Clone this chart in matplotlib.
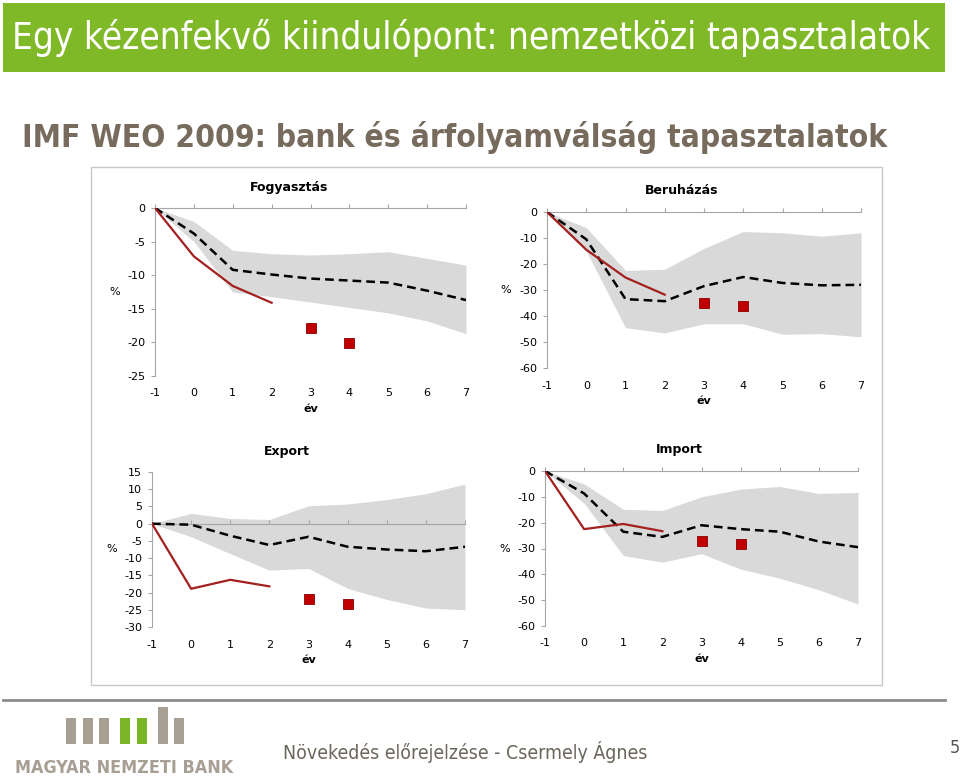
import numpy as np
import matplotlib
matplotlib.use("Agg")
import matplotlib.pyplot as plt
from matplotlib.patches import Rectangle

plt.rcParams["axes.unicode_minus"] = False

# Years after crisis
years = [-1, 0, 1, 2, 3, 4, 5, 6, 7]
red_years = [-1, 0, 1, 2]
sq_years = [3, 4]

# Fogyasztás
fogy_upper = [0, -2, -6.3, -6.8, -7, -6.8, -6.5, -7.5, -8.5]
fogy_lower = [0, -5, -12.5, -13.2, -14, -14.8, -15.6, -16.8, -18.7]
fogy_mid = [0, -3.8, -9.2, -9.9, -10.5, -10.8, -11.1, -12.3, -13.7]
fogy_red = [0, -7.2, -11.6, -14.1]
fogy_sq = [-17.8, -20.1]

# Beruházás
ber_upper = [0, -6, -22.5, -22, -14, -7.5, -8, -9.3, -8]
ber_lower = [0, -15, -44.5, -46.5, -43, -43, -47, -46.8, -48]
ber_mid = [0, -10.5, -33.5, -34.3, -28.5, -25, -27.3, -28.2, -28]
ber_red = [0, -14.5, -25.2, -31.8]
ber_sq = [-35, -36]

# Export
exp_upper = [0, 3, 1.5, 1.2, 5.2, 5.7, 7, 8.7, 11.5]
exp_lower = [0, -3.8, -8.7, -13.5, -13, -18.8, -22, -24.5, -25]
exp_mid = [0, -0.3, -3.5, -6.2, -3.8, -6.7, -7.5, -8, -6.7]
exp_red = [0, -18.9, -16.3, -18.2]
exp_sq = [-21.8, -23.2]

# Import
imp_upper = [0, -5, -14.8, -15.3, -10, -7, -6, -8.7, -8.3]
imp_lower = [0, -12.5, -32.7, -35.3, -32, -38, -41.5, -46, -51.5]
imp_mid = [0, -8.7, -23.5, -25.5, -21, -22.5, -23.5, -27.3, -29.5]
imp_red = [0, -22.5, -20.5, -23.3]
imp_sq = [-27, -28.3]

W, H = 960, 781
fig = plt.figure(figsize=(W / 100, H / 100), dpi=100)
fig.patch.set_facecolor("white")


def px_rect(x0, y0, x1, y1, **kw):
    # rectangle given in pixel coords (top-left origin)
    fig.add_artist(Rectangle((x0 / W, 1 - y1 / H), (x1 - x0) / W, (y1 - y0) / H,
                             transform=fig.transFigure, **kw))


def fit_text(x, y, s, width, **kw):
    # place text at pixel position and scale font so it spans the given width
    t = fig.text(x / W, 1 - y / H, s, **kw)
    r = fig.canvas.get_renderer()
    w = t.get_window_extent(r).width
    t.set_fontsize(t.get_fontsize() * width / w)
    return t


# Header banner
px_rect(3, 3, 945, 72, facecolor="#80b928", edgecolor="none")
fit_text(12, 38, "Egy kézenfekvő kiindulópont: nemzetközi tapasztalatok", 920,
         color="white", fontsize=24, va="center", ha="left",
         family="DejaVu Sans", fontstretch="condensed")
fit_text(22, 138, "IMF WEO 2009: bank és árfolyamválság tapasztalatok", 866,
         color="#776b5d", fontsize=24, va="center", ha="left",
         family="DejaVu Sans", fontstretch="condensed", fontweight="bold")

# chart frame (behind the axes)
px_rect(91, 167, 882, 685, facecolor="white", edgecolor="#c8c8c8", linewidth=1, zorder=-5)

panels = [
    ("Fogyasztás", (155, 208, 466, 376), (-25, 0), 5, fogy_upper, fogy_lower, fogy_mid, fogy_red, fogy_sq),
    ("Beruházás", (547, 212, 861, 368), (-60, 0), 10, ber_upper, ber_lower, ber_mid, ber_red, ber_sq),
    ("Export", (152, 472, 465, 627), (-30, 15), 5, exp_upper, exp_lower, exp_mid, exp_red, exp_sq),
    ("Import", (545, 471, 858, 626), (-60, 0), 10, imp_upper, imp_lower, imp_mid, imp_red, imp_sq),
]

for title, (x0, y0, x1, y1), ylim, step, upper, lower, mid, red, sq in panels:
    ax = fig.add_axes([x0 / W, 1 - y1 / H, (x1 - x0) / W, (y1 - y0) / H])
    ax.fill_between(years, lower, upper, color="#d9d9d9", linewidth=0, zorder=1)
    ax.plot(years, mid, color="black", linestyle=(0, (3.5, 2)), linewidth=1.8, zorder=3)
    ax.plot(red_years, red, color="#a3201f", linewidth=1.6, zorder=4)
    ax.plot(sq_years, sq, linestyle="none", marker="s", markersize=6.5,
            markerfacecolor="#c00000", markeredgecolor="#8b0000", markeredgewidth=0.6, zorder=5)

    ax.set_xlim(-1, 7)
    ax.set_ylim(*ylim)
    ax.set_xticks(years)
    ax.set_yticks(np.arange(ylim[0], ylim[1] + 1, step))
    for sp in ["right", "bottom"]:
        ax.spines[sp].set_visible(False)
    ax.spines["top"].set_position(("data", 0))
    ax.spines["top"].set_color("#a6a6a6")
    ax.spines["left"].set_color("#a6a6a6")
    ax.spines["top"].set_zorder(2)
    ax.tick_params(axis="x", bottom=False, top=True, labelbottom=True, labeltop=False,
                   direction="out", length=3, color="#a6a6a6", pad=6, labelsize=8)
    ax.tick_params(axis="y", direction="out", length=3, color="#a6a6a6", pad=4, labelsize=8)
    ax.set_xlabel("év", fontsize=8, fontweight="bold", labelpad=4)
    ax.set_ylabel("%", fontsize=8, rotation=0, va="center", ha="center")
    ax.yaxis.set_label_coords(-0.13, 0.5)
    ax.text(0.43, 1 + 21 / (y1 - y0), title, transform=ax.transAxes, ha="center", va="center",
            fontsize=9, fontweight="bold")
    ax.patch.set_alpha(0)

# Footer
fig.add_artist(plt.Line2D([3 / W, 945 / W], [1 - 700 / H, 1 - 700 / H], transform=fig.transFigure,
                          color="#8c8c8c", linewidth=2))
bar_x = [66, 83, 99, 120, 137, 158, 174]
bar_top = [718, 718, 718, 718, 718, 707, 718]
bar_col = ["#a89f94", "#a89f94", "#a89f94", "#7ab526", "#7ab526", "#a89f94", "#a89f94"]
for bx, bt, bc in zip(bar_x, bar_top, bar_col):
    px_rect(bx, bt, bx + 10, 744, facecolor=bc, edgecolor="none")
fit_text(15, 768, "MAGYAR NEMZETI BANK", 218, color="#a89f94", fontsize=12, va="center",
         ha="left", family="DejaVu Sans", fontstretch="condensed", fontweight="bold")
fit_text(283, 752, "Növekedés előrejelzése - Csermely Ágnes", 367, color="#6b665b", fontsize=14,
         va="center", ha="left", family="DejaVu Sans", fontstretch="condensed")
fig.text(955 / W, 1 - 748 / H, "5", color="#555555", fontsize=13, ha="center", va="center",
         family="DejaVu Sans", fontstretch="condensed")

fig.savefig("out.png", dpi=100)
